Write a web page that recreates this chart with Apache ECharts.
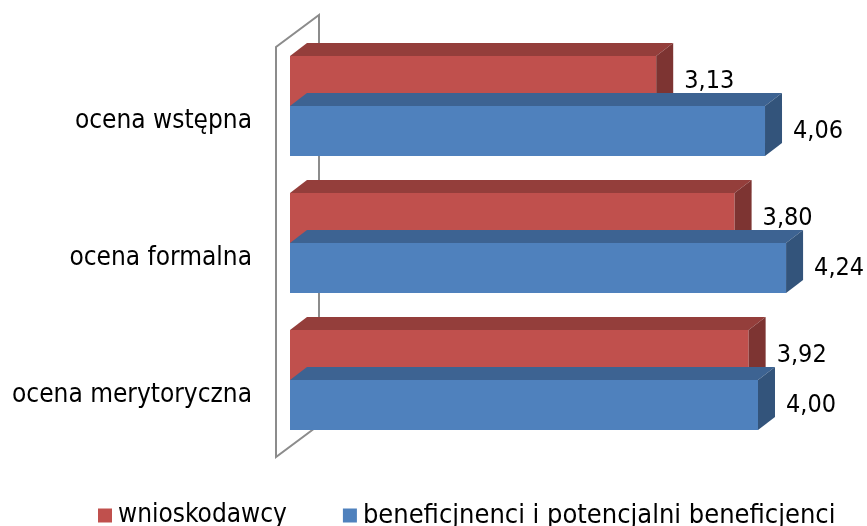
<!DOCTYPE html>
<html>
<head>
<meta charset="utf-8">
<script src="https://cdn.jsdelivr.net/npm/echarts@6/dist/echarts.min.js"></script>
<style>
  html, body { margin: 0; padding: 0; background: #fff; }
  #chart { width: 867px; height: 526px; }
</style>
</head>
<body>
<div id="chart"></div>
<script>
// Categories (top to bottom) and average ratings per group
const categories = ['ocena wstępna', 'ocena formalna', 'ocena merytoryczna'];
const seriesNames = ['wnioskodawcy', 'beneficjnenci i potencjalni beneficjenci'];
const applicants = [3.13, 3.80, 3.92];
const beneficiaries = [4.06, 4.24, 4.00];

const FONT = '"DejaVu Sans Condensed", "DejaVu Sans", sans-serif';
const DEPTH_X = 17, DEPTH_Y = 13;

// front / top / side shades for each series
const palette = [
  { front: '#C0504D', top: '#943E3B', side: '#7D3432' },
  { front: '#4F81BD', top: '#3D6392', side: '#33547B' }
];

const fmt = v => v.toFixed(2).replace('.', ',');

function makeRenderer(seriesIdx) {
  const c = palette[seriesIdx];
  return function (params, api) {
    const cat = api.value(1);
    const val = api.value(0);
    const start = api.coord([0, cat]);
    const end = api.coord([val, cat]);
    const band = api.size([0, 1])[1];
    const barH = band * 50 / 137;
    const cy = start[1];
    const yt = seriesIdx === 0 ? cy - barH : cy;
    const yb = yt + barH;
    const x0 = start[0], x1 = end[0];
    return {
      type: 'group',
      children: [
        { type: 'rect', shape: { x: x0, y: yt, width: x1 - x0, height: barH },
          style: { fill: c.front } },
        { type: 'polygon', shape: { points: [[x0, yt], [x1, yt], [x1 + DEPTH_X, yt - DEPTH_Y], [x0 + DEPTH_X, yt - DEPTH_Y]] },
          style: { fill: c.top } },
        { type: 'polygon', shape: { points: [[x1, yt], [x1 + DEPTH_X, yt - DEPTH_Y], [x1 + DEPTH_X, yb - DEPTH_Y], [x1, yb]] },
          style: { fill: c.side } },
        { type: 'text', x: x1 + 28, y: (yt + yb) / 2,
          style: { text: fmt(val), fill: '#000', font: '25px ' + FONT, verticalAlign: 'middle', align: 'left' } }
      ]
    };
  };
}

// side wall outline behind the bars
function renderWall(params, api) {
  const cs = params.coordSys;
  const fx = cs.x - 14, ft = cs.y + 9.5, fb = cs.y + cs.height + 8.5;
  const wx = 43, wy = 32;
  return {
    type: 'polygon',
    shape: { points: [[fx, ft], [fx, fb], [fx + wx, fb - wy], [fx + wx, ft - wy]] },
    style: { fill: 'none', stroke: '#8C8C8C', lineWidth: 2 }
  };
}

const chart = echarts.init(document.getElementById('chart'));
chart.setOption({
  animation: false,
  grid: { left: 290, top: 37.5, width: 526.5, height: 411 },
  xAxis: { type: 'value', min: 0, max: 4.5, show: false },
  yAxis: {
    type: 'category', data: categories, inverse: true,
    axisLine: { show: false }, axisTick: { show: false }, splitLine: { show: false },
    axisLabel: { color: '#000', fontFamily: FONT, fontSize: 26, lineHeight: 26, margin: 38, verticalAlign: 'top',
      padding: [2, 0, 0, 0] }
  },
  legend: {
    data: seriesNames, left: 98, top: 502, padding: 0, icon: 'rect', itemWidth: 14, itemHeight: 14,
    itemGap: 56,
    formatter: name => name === seriesNames[1] ? '{w|' + name + '}' : name,
    textStyle: {
      color: '#000', fontFamily: FONT, fontSize: 26, lineHeight: 26, padding: [0, 0, 0, 1],
      rich: { w: { color: '#000', fontFamily: FONT, fontSize: 27, lineHeight: 26 } }
    }
  },
  series: [
    { type: 'custom', name: 'wall', renderItem: renderWall, data: [[0, 0]], silent: true, z: 1 },
    { type: 'custom', name: seriesNames[0], itemStyle: { color: palette[0].front },
      renderItem: makeRenderer(0), encode: { x: 0, y: 1 }, z: 2,
      data: applicants.map((v, i) => [v, i]) },
    { type: 'custom', name: seriesNames[1], itemStyle: { color: palette[1].front },
      renderItem: makeRenderer(1), encode: { x: 0, y: 1 }, z: 3,
      data: beneficiaries.map((v, i) => [v, i]) }
  ]
});
</script>
</body>
</html>
